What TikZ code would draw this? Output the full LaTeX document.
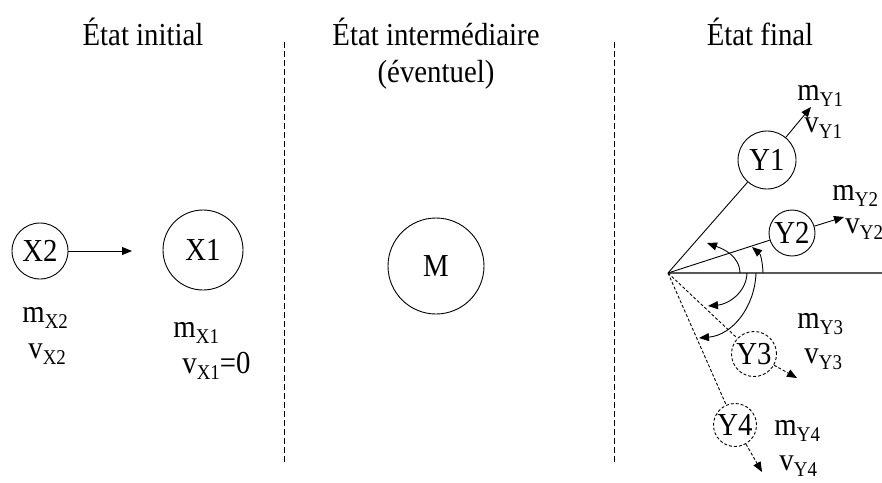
\documentclass[tikz,border=0pt]{standalone}
\usepackage{fontspec}
\setmainfont{Liberation Serif}[FakeStretch=0.9]
\usetikzlibrary{positioning,arrows.meta}
\newcommand{\idx}[2]{#1\raisebox{-6pt}{\fontsize{21}{21}\selectfont #2}}

\begin{document}
\begin{tikzpicture}[x=1pt, y=-1pt,
  font=\fontsize{32}{38}\selectfont,
  line width=0.9pt,
  part/.style={draw, circle, inner sep=0pt},
  partdash/.style={part, dash pattern=on 3pt off 2pt},
  lbl/.style={anchor=base west, inner sep=0pt},
  heading/.style={anchor=base, inner sep=0pt},
  arr/.style={-{Triangle[length=10pt,width=8pt]}},
  divider/.style={dash pattern=on 6pt off 3pt, line width=0.7pt},
]
\useasboundingbox (0,0) rectangle (882,482);

% titres
\node[heading] (tini) at (143,45) {État initial};
\node[heading] (tmid) at (436,45) {État intermédiaire};
\node[heading] (tmid2) at (436,82) {(éventuel)};
\node[heading] (tfin) at (760,45) {État final};

% separations
\coordinate (d1a) at (284,42); \coordinate (d1b) at (284,464);
\coordinate (d2a) at (614,42); \coordinate (d2b) at (614,464);
\draw[divider] (d1a) -- (d1b);
\draw[divider] (d2a) -- (d2b);

% etat initial
\node[part, minimum size=56pt] (X2) at (40,251) {X2};
\node[part, minimum size=80pt] (X1) at (203,250) {X1};
\coordinate (x2tip) at (132,251);
\draw[arr] (X2) -- (x2tip);
\node[lbl] (mX2) at (22,322) {\idx{m}{X2}};
\node[lbl] (vX2) at (28,358) {\idx{v}{X2}};
\node[lbl] (mX1) at (173,337) {\idx{m}{X1}};
\node[lbl] (vX1) at (182,373) {\idx{v}{X1}=0};

% etat intermediaire
\node[part, minimum size=96pt] (M) at (436,266) {M};

% etat final
\coordinate (O) at (668,273);
\coordinate (hz) at (882,273);
\draw[line width=1.3pt, black!65] (O) -- (hz);

\node[part, minimum size=58pt] (Y1) at (767,160) {Y1};
\node[part, minimum size=46pt] (Y2) at (792,233) {Y2};
\node[partdash, minimum size=45pt] (Y3) at (754,354) {Y3};
\node[partdash, minimum size=43pt] (Y4) at (735,425) {Y4};

\coordinate (y1tip) at (811,107);
\coordinate (y2tip) at (844,217);
\coordinate (y3tip) at (797,378);
\coordinate (y4tip) at (762,472);

\draw (O) -- (Y1);
\draw[arr] (Y1) -- (y1tip);
\draw (O) -- (Y2);
\draw[arr] (Y2) -- (y2tip);
\draw[dash pattern=on 3pt off 2pt] (O) -- (Y3);
\draw[arr, dash pattern=on 3pt off 2pt] (Y3) -- (y3tip);
\draw[dash pattern=on 3pt off 2pt] (O) -- (Y4);
\draw[arr, dash pattern=on 3pt off 2pt] (Y4) -- (y4tip);

\node[lbl] (mY1) at (797,100) {\idx{m}{Y1}};
\node[lbl] (vY1) at (804,132) {\idx{v}{Y1}};
\node[lbl] (mY2) at (832,200) {\idx{m}{Y2}};
\node[lbl] (vY2) at (845,233) {\idx{v}{Y2}};
\node[lbl] (mY3) at (797,328) {\idx{m}{Y3}};
\node[lbl] (vY3) at (804,363) {\idx{v}{Y3}};
\node[lbl] (mY4) at (774,435) {\idx{m}{Y4}};
\node[lbl] (vY4) at (779,470) {\idx{v}{Y4}};

% angles
\coordinate (a1s) at (740,273); \coordinate (a1e) at (707,243);
\coordinate (a2s) at (763,273); \coordinate (a2e) at (752,247);
\coordinate (a3s) at (747,273); \coordinate (a3e) at (708,306);
\coordinate (a4s) at (756,273); \coordinate (a4e) at (699,338);
\draw[arr] (a1s) to[out=92, in=-20] (a1e);
\draw[arr] (a2s) to[out=92, in=-40] (a2e);
\draw[arr] (a3s) to[out=-92, in=5] (a3e);
\draw[arr] (a4s) to[out=-92, in=5] (a4e);
\end{tikzpicture}
\end{document}
